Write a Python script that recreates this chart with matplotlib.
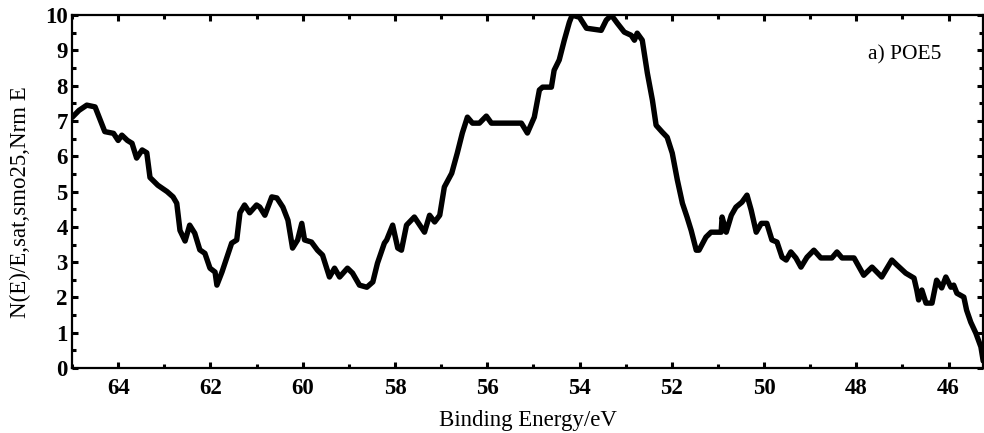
import matplotlib
matplotlib.use("Agg")
import matplotlib.pyplot as plt
from matplotlib.ticker import MultipleLocator

# spectrum (binding energy in eV, normalised intensity)
energy = [65.0, 64.85, 64.68, 64.5, 64.29, 64.1, 64.0, 63.92, 63.8, 63.7,
          63.6, 63.48, 63.38, 63.31, 63.14, 62.94, 62.81, 62.73, 62.66, 62.55,
          62.45, 62.34, 62.23, 62.12, 62.01, 61.9, 61.86, 61.75, 61.6, 61.54,
          61.43, 61.36, 61.26, 61.15, 61.0, 60.93, 60.82, 60.67, 60.56, 60.43,
          60.32, 60.22, 60.11, 60.02, 59.96, 59.81, 59.68, 59.57, 59.42, 59.31,
          59.2, 59.03, 58.92, 58.77, 58.61, 58.48, 58.38, 58.23, 58.18, 58.05,
          57.94, 57.86, 57.75, 57.58, 57.36, 57.25, 57.14, 57.03, 56.93, 56.77,
          56.65, 56.54, 56.43, 56.32, 56.17, 56.02, 55.91, 55.26, 55.13, 54.98,
          54.87, 54.8, 54.61, 54.55, 54.44, 54.33, 54.22, 54.16, 54.0, 53.85,
          53.53, 53.42, 53.31, 53.18, 53.03, 52.88, 52.81, 52.75, 52.64, 52.53,
          52.42, 52.34, 52.21, 52.1, 51.99, 51.88, 51.77, 51.67, 51.58, 51.47,
          51.41, 51.26, 51.15, 50.93, 50.91, 50.82, 50.71, 50.61, 50.48, 50.37,
          50.28, 50.17, 50.06, 49.94, 49.83, 49.72, 49.61, 49.52, 49.42, 49.31,
          49.2, 49.07, 48.92, 48.77, 48.53, 48.42, 48.31, 48.05, 47.84, 47.66,
          47.45, 47.23, 47.12, 46.93, 46.75, 46.69, 46.65, 46.58, 46.49, 46.36,
          46.26, 46.15, 46.06, 45.95, 45.89, 45.82, 45.67, 45.61, 45.52, 45.41,
          45.3, 45.25]
intensity = [7.1, 7.3, 7.45, 7.4, 6.7, 6.65, 6.45, 6.6, 6.45, 6.37,
             5.95, 6.18, 6.1, 5.4, 5.18, 5.0, 4.85, 4.67, 3.9, 3.6,
             4.05, 3.82, 3.35, 3.25, 2.83, 2.72, 2.35, 2.72, 3.3, 3.54,
             3.63, 4.4, 4.62, 4.4, 4.62, 4.56, 4.33, 4.85, 4.82, 4.56,
             4.19, 3.4, 3.63, 4.1, 3.63, 3.57, 3.34, 3.2, 2.58, 2.83,
             2.58, 2.83, 2.69, 2.35, 2.29, 2.44, 2.97, 3.54, 3.63, 4.05,
             3.4, 3.34, 4.05, 4.28, 3.85, 4.33, 4.14, 4.33, 5.13, 5.52,
             6.09, 6.66, 7.11, 6.94, 6.94, 7.14, 6.94, 6.94, 6.66, 7.11,
             7.88, 7.96, 7.96, 8.44, 8.73, 9.29, 9.8, 10.0, 9.94, 9.63,
             9.57, 9.86, 10.0, 9.77, 9.52, 9.43, 9.29, 9.49, 9.29, 8.36,
             7.59, 6.88, 6.69, 6.54, 6.09, 5.33, 4.67, 4.28, 3.9, 3.34,
             3.34, 3.71, 3.85, 3.85, 4.28, 3.85, 4.33, 4.56, 4.7, 4.9,
             4.48, 3.85, 4.1, 4.1, 3.63, 3.57, 3.14, 3.06, 3.29, 3.12,
             2.86, 3.14, 3.34, 3.12, 3.12, 3.29, 3.12, 3.12, 2.63, 2.86,
             2.58, 3.06, 2.92, 2.69, 2.55, 2.21, 1.93, 2.21, 1.84, 1.84,
             2.49, 2.27, 2.58, 2.29, 2.35, 2.12, 2.01, 1.64, 1.3, 0.99,
             0.6, 0.2]

plt.rcParams['font.family'] = ['Liberation Serif', 'DejaVu Serif']

fig = plt.figure(figsize=(9.84, 4.33), dpi=100)
ax = fig.add_axes([0.0732, 0.150, 0.926, 0.815])

ax.plot(energy, intensity, color='black', lw=3.9, solid_joinstyle='round',
        solid_capstyle='round')

ax.set_xlim(65.0, 45.25)
ax.set_ylim(0, 10)

ax.xaxis.set_major_locator(MultipleLocator(2))
ax.xaxis.set_minor_locator(MultipleLocator(1))
ax.yaxis.set_major_locator(MultipleLocator(1))
ax.yaxis.set_minor_locator(MultipleLocator(0.5))
ax.tick_params(which='both', direction='in', top=True, right=True,
               width=2.2, labelsize=16.5)
ax.tick_params(which='major', length=4)
ax.tick_params(which='minor', length=3)
ax.tick_params(axis='x', pad=7)
ax.tick_params(axis='y', pad=3)
for lab in ax.get_xticklabels() + ax.get_yticklabels():
    lab.set_fontweight('bold')

for sp in ax.spines.values():
    sp.set_linewidth(1.6)

ax.set_xlabel('Binding Energy/eV', fontsize=16.5, labelpad=8)
ax.set_ylabel('N(E)/E,sat,smo25,Nrm E', fontsize=16.5)
ax.yaxis.set_label_coords(-0.045, 0.47)

ax.text(46.95, 8.87, 'a) POE5', fontsize=15.5,
        ha='center', va='center')

fig.savefig('out.png', dpi=100)
